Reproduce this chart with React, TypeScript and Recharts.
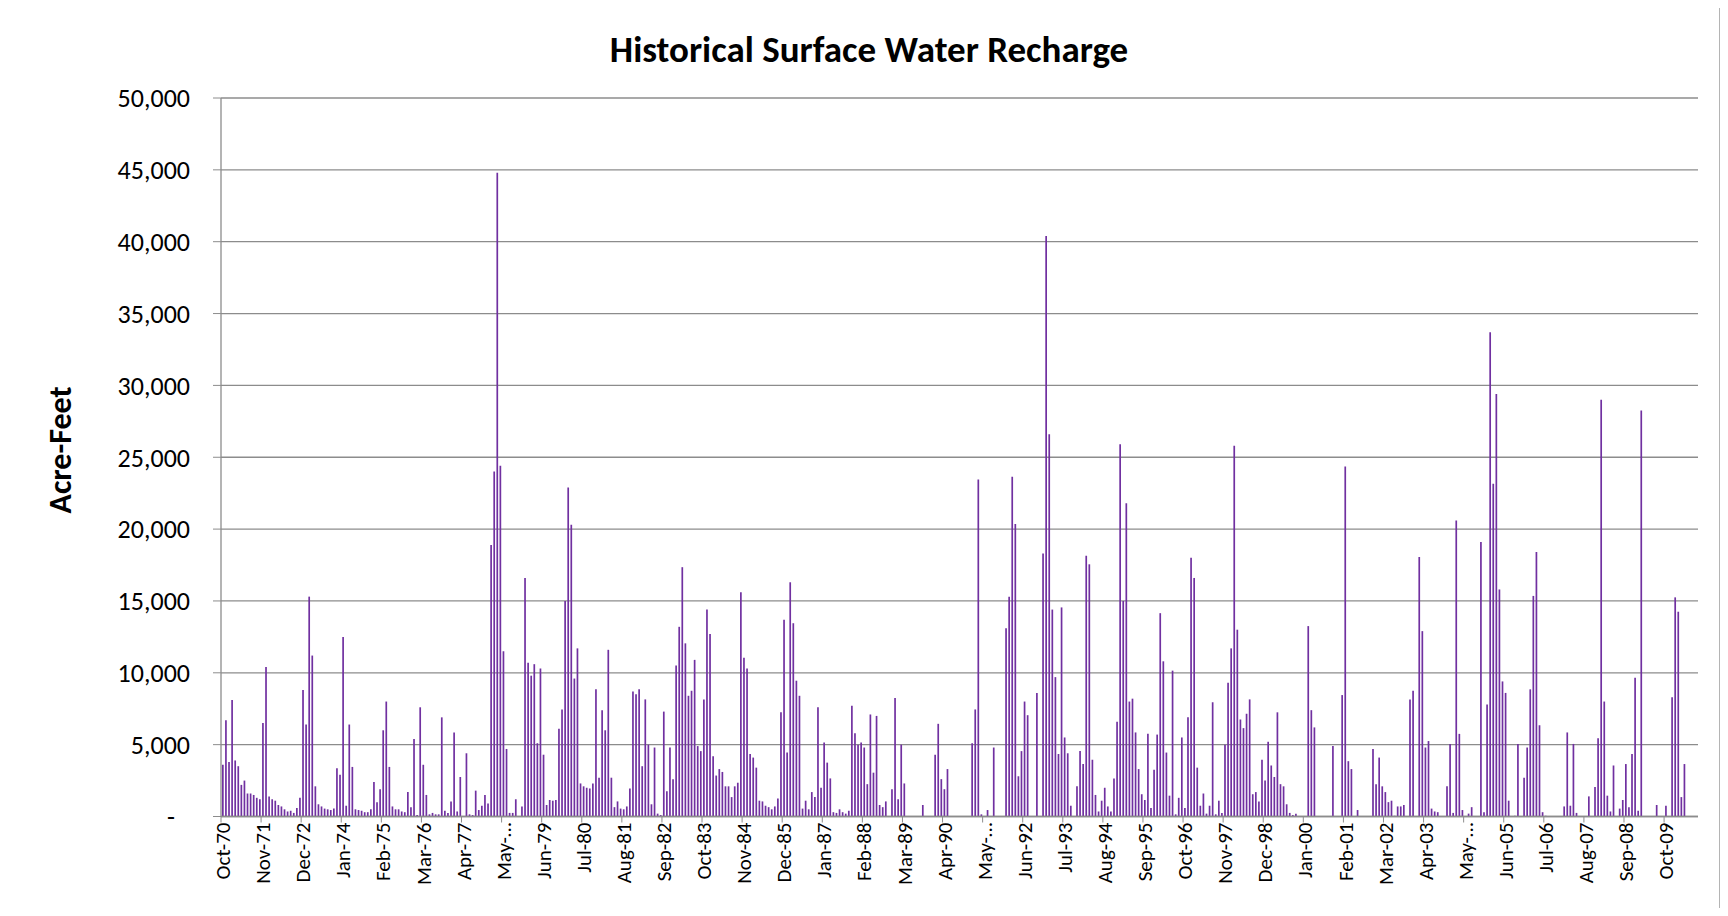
import { BarChart, Bar, XAxis, YAxis, CartesianGrid } from 'recharts';

// monthly recharge, acre-feet, one row per water year (Oct .. Sep), Oct-70 .. Aug-10
const recharge: number[] = [
    3600, 6700, 3800, 8100, 3900, 3500, 2200, 2500, 1600, 1600, 1500, 1300,
    1200, 6500, 10400, 1400, 1200, 1100, 800, 700, 500, 350, 400, 250,
    600, 1300, 8800, 6400, 15300, 11200, 2100, 850, 700, 550, 500, 450,
    550, 3350, 2900, 12500, 750, 6400, 3450, 500, 450, 400, 300, 300,
    500, 2400, 1000, 1900, 6000, 8000, 3450, 700, 500, 500, 350, 300,
    1700, 650, 5400, 100, 7600, 3600, 1500, 150, 250, 150, 150, 6900,
    400, 250, 1050, 5850, 350, 2750, 0, 4400, 150, 100, 1800, 450,
    750, 1500, 900, 18900, 24000, 44800, 24400, 11500, 4700, 250, 250, 1200,
    0, 700, 16600, 10700, 9800, 10600, 5100, 10300, 4300, 800, 1150, 1100,
    1150, 6100, 7450, 15000, 22900, 20300, 9600, 11700, 2300, 2100, 2000, 1950,
    2300, 8850, 2700, 7400, 6000, 11600, 2700, 650, 1050, 550, 500, 700,
    1950, 8700, 8500, 8850, 3500, 8150, 5000, 850, 4800, 200, 100, 7300,
    1750, 4800, 2600, 10500, 13200, 17350, 12050, 8400, 8750, 10900, 4900, 4550,
    8150, 14400, 12700, 4200, 2850, 3300, 3100, 2100, 2100, 1350, 2100, 2350,
    15600, 11050, 10300, 4350, 4100, 3400, 1100, 1050, 750, 650, 500, 700,
    1250, 7250, 13700, 4450, 16300, 13450, 9450, 8400, 550, 1100, 500, 1700,
    1350, 7600, 2000, 5150, 3750, 2650, 300, 250, 500, 300, 200, 400,
    7700, 5800, 5000, 5150, 4800, 2250, 7100, 3050, 7000, 800, 650, 1050,
    0, 1900, 8250, 1200, 5000, 2300, 0, 0, 0, 0, 0, 800,
    0, 0, 0, 4300, 6450, 2600, 1900, 3300, 0, 0, 0, 0,
    0, 0, 0, 5100, 7450, 23450, 150, 0, 450, 0, 4800, 0,
    0, 0, 13100, 15300, 23650, 20350, 2800, 4550, 8000, 7050, 0, 0,
    8600, 0, 18300, 40400, 26600, 14400, 9700, 4350, 14550, 5500, 4400, 750,
    0, 2100, 4550, 3650, 18150, 17550, 3950, 1500, 350, 1100, 2000, 700,
    350, 2650, 6600, 25900, 15000, 21800, 8000, 8200, 5850, 3300, 1550, 1150,
    5750, 600, 3250, 5700, 14150, 10800, 4450, 1450, 10150, 150, 1300, 5500,
    600, 6900, 18000, 16600, 3400, 750, 1600, 200, 750, 7950, 150, 1100,
    250, 5000, 9300, 11700, 25800, 13000, 6750, 6150, 7150, 8150, 1550, 1700,
    1050, 3950, 2500, 5200, 3550, 2750, 7250, 2250, 2100, 850, 250, 100,
    200, 0, 0, 0, 13250, 7400, 6200, 0, 0, 0, 0, 0,
    4900, 0, 0, 8450, 24350, 3850, 3300, 0, 450, 0, 0, 0,
    0, 4700, 2250, 4100, 2100, 1700, 1000, 1100, 50, 700, 700, 800,
    0, 8150, 8750, 0, 18050, 12900, 4800, 5250, 550, 350, 300, 0,
    0, 2100, 5050, 250, 20600, 5750, 450, 0, 200, 650, 0, 0,
    19100, 300, 7800, 33700, 23150, 29400, 15800, 9400, 8600, 1100, 0, 50,
    5050, 0, 2700, 4800, 8850, 15350, 18400, 6350, 300, 50, 0, 0,
    0, 0, 0, 700, 5850, 750, 5050, 250, 0, 0, 0, 1400,
    0, 2050, 5450, 29000, 8000, 1450, 350, 3550, 0, 550, 1150, 3650,
    650, 4350, 9650, 400, 28250, 0, 0, 0, 0, 800, 0, 0,
    750, 0, 8300, 15250, 14250, 1350, 3650, 0, 0, 0, 0,
];

const monthNames = ['Jan', 'Feb', 'Mar', 'Apr', 'May', 'Jun', 'Jul', 'Aug', 'Sep', 'Oct', 'Nov', 'Dec'];

// every 13th month gets a label, as in the original
const tickLabels = [
    'Oct-70', 'Nov-71', 'Dec-72', 'Jan-74', 'Feb-75', 'Mar-76', 'Apr-77', 'May-…', 'Jun-79', 'Jul-80',
    'Aug-81', 'Sep-82', 'Oct-83', 'Nov-84', 'Dec-85', 'Jan-87', 'Feb-88', 'Mar-89', 'Apr-90', 'May-…',
    'Jun-92', 'Jul-93', 'Aug-94', 'Sep-95', 'Oct-96', 'Nov-97', 'Dec-98', 'Jan-00', 'Feb-01', 'Mar-02',
    'Apr-03', 'May-…', 'Jun-05', 'Jul-06', 'Aug-07', 'Sep-08', 'Oct-09',
];

const yTicks = [0, 5000, 10000, 15000, 20000, 25000, 30000, 35000, 40000, 45000, 50000];

const LABEL_EVERY = 13;
const FONT = 'Carlito, Calibri, Lato, sans-serif';
const GRID = '#8c8c8c';

const data = recharge.map((value, i) => {
    const m = (9 + i) % 12;
    const yr = (70 + Math.floor((9 + i) / 12)) % 100;
    return {
        month: `${monthNames[m]}-${String(yr).padStart(2, '0')}`,
        value,
        tick: i % LABEL_EVERY === 0 ? tickLabels[i / LABEL_EVERY] : '',
    };
});

const tickByMonth = new Map(data.map((d) => [d.month, d.tick]));

const W = 1712;
const H = 900;
const PLOT_LEFT = 213;
const PLOT_RIGHT = 22;
const BAND = (W - PLOT_LEFT - PLOT_RIGHT) / recharge.length;

const XTick = (props: any) => {
    const { x, y, payload } = props;
    const label = tickByMonth.get(payload.value) ?? '';
    const edge = -BAND / 2;
    return (
        <g transform={`translate(${x},${y})`}>
            <line x1={edge} x2={edge} y1={0} y2={6} stroke={GRID} />
            <text
                transform='rotate(-90)'
                x={-6}
                y={0}
                dy='0.36em'
                textAnchor='end'
                fontFamily={FONT}
                fontSize={21}
                fill='#000'
            >
                {label}
            </text>
        </g>
    );
};

const YTick = (props: any) => {
    const { x, y, payload } = props;
    const v = payload.value as number;
    const text = v === 0 ? '-' : v.toLocaleString('en-US');
    return (
        <text x={v === 0 ? x - 15 : x} y={y} dy='0.36em' textAnchor='end' fontFamily={FONT} fontSize={26} fill='#000'>
            {text}
        </text>
    );
};

export default function App() {
    return (
        <div style={{ position: 'relative', width: W, height: H }}>
            <BarChart
                width={W}
                height={H}
                data={data}
                margin={{ top: 90, right: PLOT_RIGHT, bottom: 0, left: 0 }}
                style={{ position: 'absolute', left: 0, top: 0 }}
            >
                <CartesianGrid vertical={false} stroke={GRID} strokeWidth={1.3} />
                <XAxis
                    dataKey='month'
                    interval={LABEL_EVERY - 1}
                    height={91.5}
                    tickLine={false}
                    tickSize={0}
                    tickMargin={0}
                    axisLine={{ stroke: GRID, strokeWidth: 1.3 }}
                    tick={<XTick />}
                />
                <YAxis
                    width={PLOT_LEFT}
                    domain={[0, 50000]}
                    ticks={yTicks}
                    interval={0}
                    tickSize={8}
                    tickMargin={23}
                    tickLine={{ stroke: GRID }}
                    axisLine={{ stroke: GRID, strokeWidth: 1.3 }}
                    tick={<YTick />}
                />
                <Bar dataKey='value' fill='#7030A0' barSize={1.7} isAnimationActive={false} />
            </BarChart>
            <div
                style={{
                    position: 'absolute',
                    left: 0,
                    width: 1722,
                    top: 20,
                    textAlign: 'center',
                    fontFamily: FONT,
                    fontWeight: 700,
                    fontSize: 37,
                    lineHeight: '44px',
                }}
            >
                Historical Surface Water Recharge
            </div>
            <div
                style={{
                    position: 'absolute',
                    left: 52,
                    top: 442,
                    transform: 'translate(-50%, -50%) rotate(-90deg)',
                    fontFamily: FONT,
                    fontWeight: 700,
                    fontSize: 32,
                    whiteSpace: 'nowrap',
                }}
            >
                Acre-Feet
            </div>
            <div
                style={{
                    position: 'absolute',
                    left: -20,
                    top: -3,
                    width: 1733,
                    height: 906,
                    borderTop: '2px solid #b4b4b4',
                    borderRight: '2px solid #b4b4b4',
                    boxSizing: 'border-box',
                    pointerEvents: 'none',
                    zIndex: 5,
                }}
            />
        </div>
    );
}
